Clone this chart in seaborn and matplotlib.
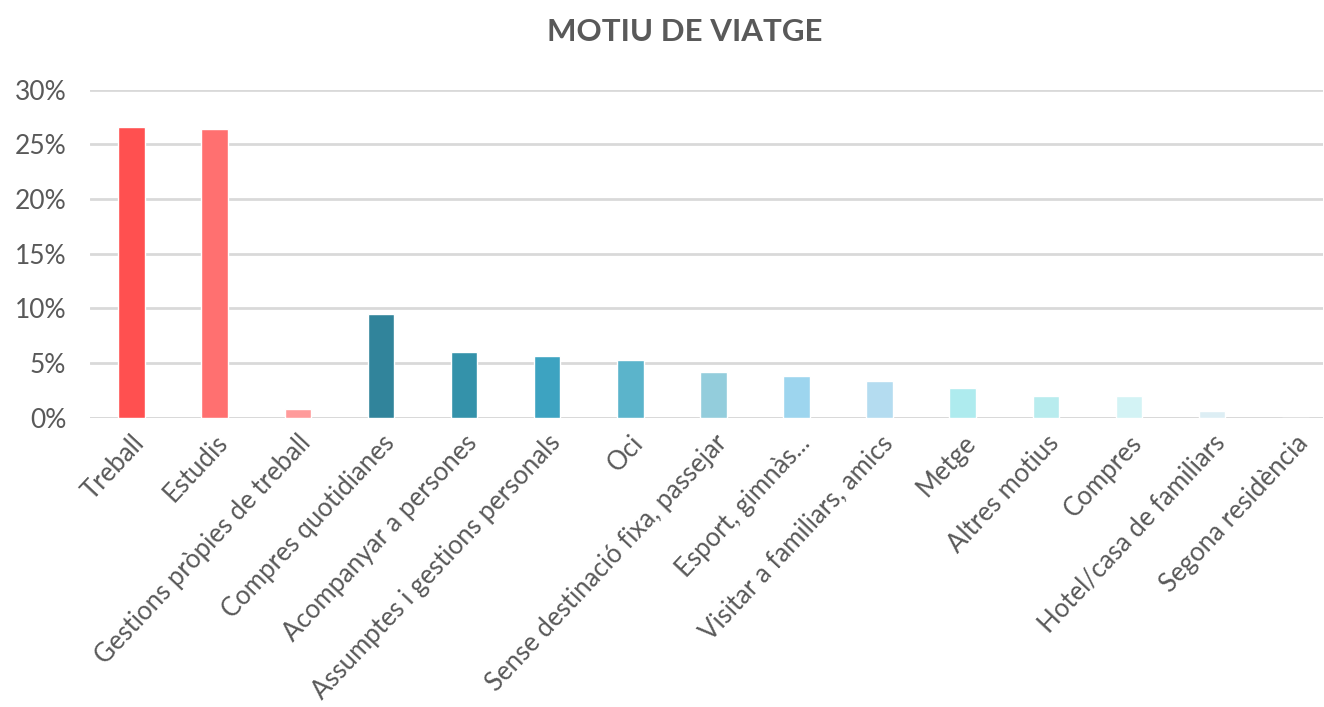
import matplotlib
matplotlib.use("Agg")
import matplotlib.pyplot as plt
import seaborn as sns
import pandas as pd
from matplotlib.ticker import PercentFormatter

categories = ['Treball', 'Estudis', 'Gestions pròpies de treball', 'Compres quotidianes',
              'Acompanyar a persones', 'Assumptes i gestions personals', 'Oci',
              'Sense destinació fixa, passejar', 'Esport, gimnàs...', 'Visitar a familiars, amics',
              'Metge', 'Altres motius', 'Compres', 'Hotel/casa de familiars', 'Segona residència']
values = [26.6, 26.4, 0.8, 9.5, 6.0, 5.7, 5.3, 4.2, 3.8, 3.4, 2.7, 2.0, 2.0, 0.6, 0.0]
colors = ['#FF5050', '#FF7070', '#FF9B9B', '#31849B', '#3492AA', '#3DA3C1', '#5BB4CB',
          '#93CDDC', '#9DD5EE', '#B4DCF0', '#AEEBEE', '#B8ECEE', '#D3F3F5', '#DDEEF4', '#E8F6F8']
y_ticks = [0, 5, 10, 15, 20, 25, 30]

df = pd.DataFrame({'motiu': categories, 'pct': values})

sns.set_style('white')
plt.rcParams['font.family'] = ['Lato', 'DejaVu Sans']

fig = plt.figure(figsize=(13.24, 7.07), dpi=100)
ax = fig.add_axes([0.068, 0.409, 0.931, 0.464])

sns.barplot(data=df, x='motiu', y='pct', hue='motiu', palette=colors, legend=False,
            width=0.32, saturation=1, ax=ax, zorder=3)

ax.set_ylim(0, 30)
ax.set_xlim(-0.5, 14.33)
ax.set_yticks(y_ticks)
ax.yaxis.set_major_formatter(PercentFormatter(decimals=0))
ax.grid(axis='y', color='#D9D9D9', linewidth=2, zorder=0)
ax.set_axisbelow(True)
for s in ax.spines.values():
    s.set_visible(False)
ax.axhline(0, color='#D9D9D9', linewidth=2, zorder=1)

ax.set_xlabel('')
ax.set_ylabel('')
ax.tick_params(axis='both', length=0, colors='#595959')
ax.tick_params(axis='y', pad=17, labelsize=19)
ax.tick_params(axis='x', pad=9, labelsize=18.5)
plt.setp(ax.get_xticklabels(), rotation=47, ha='right', rotation_mode='anchor')

fig.suptitle('MOTIU DE VIATGE', x=0.517, y=0.975, fontsize=22.5, fontweight='bold', color='#595959')

fig.savefig('out.png', dpi=100, facecolor='white')
